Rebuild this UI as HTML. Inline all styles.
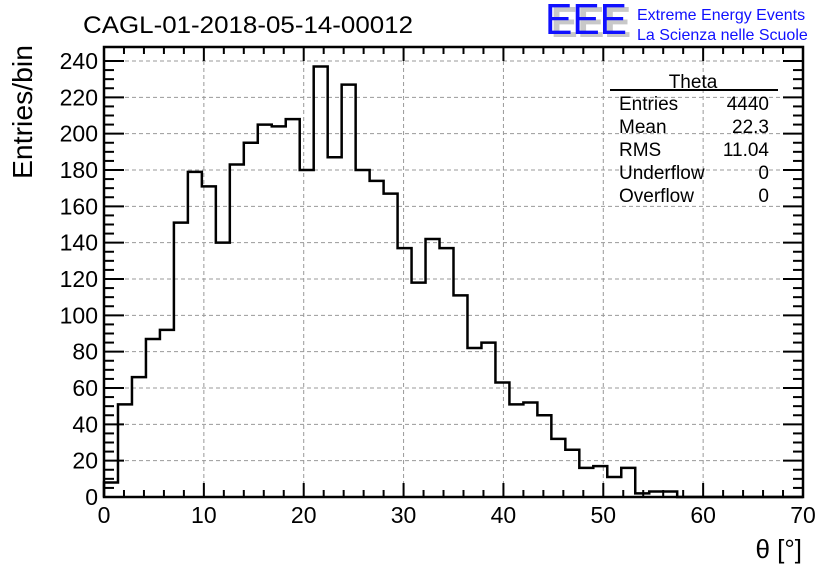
<!DOCTYPE html>
<html><head><meta charset="utf-8"><style>
html,body{margin:0;padding:0;background:#fff;}
svg{display:block;font-family:"Liberation Sans",sans-serif;}
</style></head><body>
<svg id="chart" width="836" height="572" viewBox="0 0 836 572">
<text x="83" y="33" font-size="24" textLength="330" lengthAdjust="spacingAndGlyphs">CAGL-01-2018-05-14-00012</text>
<g>
<text x="551" y="37" font-size="44" fill="#c8c8c8" font-weight="bold" textLength="80" lengthAdjust="spacingAndGlyphs">EEE</text>
<text x="545" y="34" font-size="44" fill="#1010ff" textLength="82" lengthAdjust="spacingAndGlyphs">EEE</text>
<text x="637" y="20" font-size="16" fill="#1010ff">Extreme Energy Events</text>
<text x="637" y="40" font-size="16" fill="#1010ff">La Scienza nelle Scuole</text>
</g>
<g id="grid"></g>
<g id="hist"></g>
<g id="axes"></g>
<g font-size="19">
<text x="693" y="88" text-anchor="middle">Theta</text>
<line x1="610" y1="90" x2="778" y2="90" stroke="#000" stroke-width="2"/>
<text x="619" y="110">Entries</text><text x="769" y="110" text-anchor="end">4440</text>
<text x="619" y="133">Mean</text><text x="769" y="133" text-anchor="end">22.3</text>
<text x="619" y="156">RMS</text><text x="769" y="156" text-anchor="end">11.04</text>
<text x="619" y="179">Underflow</text><text x="769" y="179" text-anchor="end">0</text>
<text x="619" y="202">Overflow</text><text x="769" y="202" text-anchor="end">0</text>
</g>
<text x="32" y="112" font-size="28" transform="rotate(-90 32 112)" text-anchor="middle" textLength="134" lengthAdjust="spacingAndGlyphs">Entries/bin</text>
<text x="802" y="558" font-size="26" text-anchor="end">θ [°]</text>
</svg>
<script>
const binWidth = 1.4;
const counts = [8,51,66,87,92,151,179,171,140,183,195,205,204,208,180,237,187,227,180,174,167,137,118,142,137,111,82,85,63,51,52,45,32,26,16,17,11,16,2,3,3,0,0,0,0,0,0,0,0,0];
const xTicks = [0,10,20,30,40,50,60,70];
const yTicks = [0,20,40,60,80,100,120,140,160,180,200,220,240];
const X0=104,X1=803,Y0=497,YTOP=47;
const xs=v=>X0+(v-0)/70*(X1-X0);
const ys=v=>Y0-v*(Y0-61)/240;
const NS="http://www.w3.org/2000/svg";
function mk(t,a,p){const e=document.createElementNS(NS,t);for(const k in a)e.setAttribute(k,a[k]);p.appendChild(e);return e;}
const grid=document.getElementById('grid'),axes=document.getElementById('axes'),hist=document.getElementById('hist');
xTicks.forEach(v=>{if(v>0&&v<70){const l=mk('line',{x1:xs(v),x2:xs(v),y1:YTOP,y2:Y0,stroke:'#999','stroke-dasharray':'4,3'},grid);

}});
yTicks.forEach(v=>{if(v>0){const l=mk('line',{x1:X0,x2:X1,y1:ys(v),y2:ys(v),stroke:'#999','stroke-dasharray':'4,3'},grid);

}});
let d='M'+xs(0)+','+Y0;
counts.forEach((c,i)=>{d+=' L'+xs(i*binWidth)+','+ys(c)+' L'+xs((i+1)*binWidth)+','+ys(c);});
d+=' L'+xs(70)+','+Y0;
const p=mk('path',{d:d,fill:'none',stroke:'#000','stroke-width':2.5},hist);


mk('rect',{x:X0,y:YTOP,width:X1-X0,height:Y0-YTOP,fill:'none',stroke:'#000','stroke-width':2.5},axes);
for(let v=0;v<=70;v+=2){const maj=v%10==0;const L=maj?14:7;
mk('line',{x1:xs(v),x2:xs(v),y1:Y0,y2:Y0-L,stroke:'#000','stroke-width':2},axes);
mk('line',{x1:xs(v),x2:xs(v),y1:YTOP,y2:YTOP+L,stroke:'#000','stroke-width':2},axes);}
for(let v=0;v<=240;v+=5){const maj=v%20==0;const L=maj?20:10;
mk('line',{x1:X0,x2:X0+L,y1:ys(v),y2:ys(v),stroke:'#000','stroke-width':2},axes);
mk('line',{x1:X1,x2:X1-L,y1:ys(v),y2:ys(v),stroke:'#000','stroke-width':2},axes);}
xTicks.forEach(v=>{const t=mk('text',{x:xs(v),y:523,'font-size':23,'text-anchor':'middle'},axes);t.textContent=v;

});
yTicks.forEach(v=>{const t=mk('text',{x:98,y:ys(v)+8,'font-size':23,'text-anchor':'end'},axes);t.textContent=v;

});
</script>
</body></html>
